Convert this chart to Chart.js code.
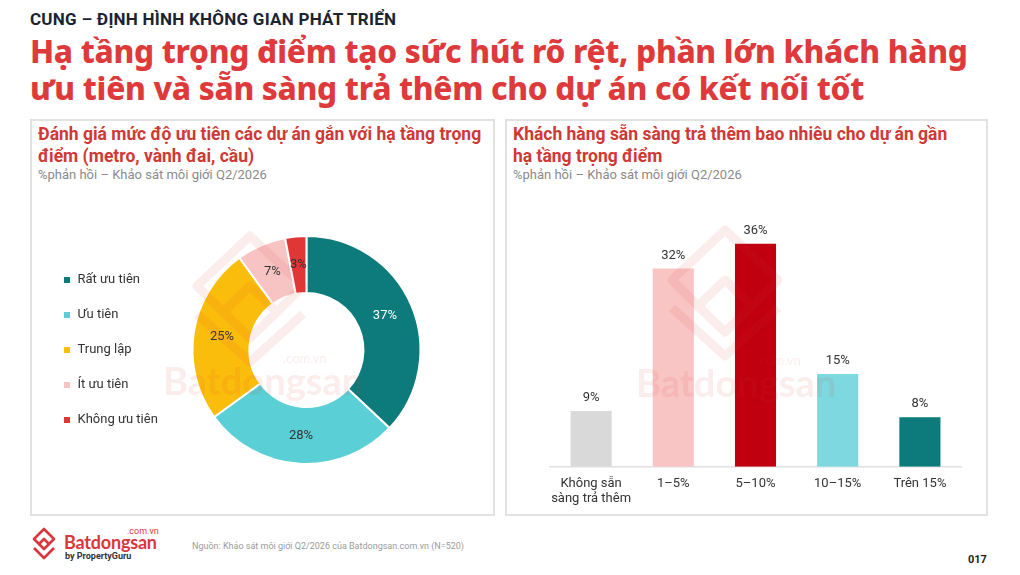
<!DOCTYPE html>
<html>
<head>
<meta charset="utf-8">
<script src="https://cdn.jsdelivr.net/npm/chart.js@4.4.1/dist/chart.umd.min.js"></script>
<style>
  body { margin: 0; width: 1020px; height: 575px; background: #fff; font-family: Roboto, "Noto Sans", sans-serif; position: relative; overflow: hidden; }
  .abs { position: absolute; }
  .kicker { left: 30px; top: 9px; font-size: 17px; font-weight: 700; color: #1c2333; letter-spacing: 0.25px; }
  .headline { left: 30px; top: 32px; font-family: "Noto Sans", sans-serif; font-size: 31.6px; font-weight: 800; color: #de3a3c; line-height: 37px; letter-spacing: -0.3px; white-space: nowrap; }
  .panel { border: 2px solid #e2e2e2; box-sizing: border-box; }
  .ptitle { font-size: 17.5px; font-weight: 700; color: #cf3935; line-height: 22px; }
  .psub { font-size: 13px; color: #8a8a8a; margin-top: 0px; }
  .wm { pointer-events: none; opacity: 0.09; color: #d9363e; font-family: Lato, "Noto Sans", sans-serif; font-weight: 700; }
  .src { left: 192px; top: 541px; font-size: 9px; color: #9a9a9a; }
  .page { left: 968px; top: 553px; font-size: 11px; font-weight: 700; color: #222; }
</style>
</head>
<body>
<div class="abs kicker">CUNG – ĐỊNH HÌNH KHÔNG GIAN PHÁT TRIỂN</div>
<div class="abs headline">Hạ tầng trọng điểm tạo sức hút rõ rệt, phần lớn khách hàng<br>ưu tiên và sẵn sàng trả thêm cho dự án có kết nối tốt</div>

<div class="abs panel" style="left:30px; top:119px; width:465px; height:397px;"></div>
<div class="abs panel" style="left:505px; top:119px; width:483px; height:397px;"></div>

<div class="abs" style="left:38px; top:123px; width:450px;">
  <div class="ptitle">Đánh giá mức độ ưu tiên các dự án gắn với hạ tầng trọng điểm (metro, vành đai, cầu)</div>
  <div class="psub">%phản hồi – Khảo sát môi giới Q2/2026</div>
</div>
<div class="abs" style="left:513px; top:123px; width:450px;">
  <div class="ptitle">Khách hàng sẵn sàng trả thêm bao nhiêu cho dự án gần hạ tầng trọng điểm</div>
  <div class="psub">%phản hồi – Khảo sát môi giới Q2/2026</div>
</div>

<div class="abs" style="left:40px; top:200px; width:440px; height:305px;"><canvas id="donut"></canvas></div>
<div class="abs" style="left:540px; top:200px; width:440px; height:316px;"><canvas id="bars"></canvas></div>

<!-- faint watermarks -->
<svg class="abs wm" style="left:185px; top:228px;" width="130" height="140" viewBox="0 0 130 140">
  <g fill="none" stroke="#d9363e" stroke-width="9" stroke-linejoin="round">
    <path d="M65 8 L118 58 L92 84 L65 58 L38 84 L12 58 Z"/>
    <path d="M38 84 L65 110 L92 84 M12 86 L65 134 L118 86"/>
  </g>
</svg>
<div class="abs wm" style="left:163px; top:360px; font-size:38px; line-height:40px;">Batdongsan</div>
<div class="abs wm" style="left:283px; top:350px; font-size:13px; font-weight:400;">.com.vn</div>
<svg class="abs wm" style="left:660px; top:222px;" width="130" height="140" viewBox="0 0 130 140">
  <g fill="none" stroke="#d9363e" stroke-width="9" stroke-linejoin="round">
    <path d="M65 8 L118 58 L92 84 L65 58 L38 84 L12 58 Z"/>
    <path d="M38 84 L65 110 L92 84 M12 86 L65 134 L118 86"/>
  </g>
</svg>
<div class="abs wm" style="left:636px; top:362px; font-size:38px; line-height:40px;">Batdongsan</div>
<div class="abs wm" style="left:757px; top:352px; font-size:13px; font-weight:400;">.com.vn</div>

<!-- footer -->
<svg class="abs" style="left:32px; top:527px;" width="24" height="36" viewBox="0 0 24 36">
  <g fill="none" stroke="#d9363e" stroke-width="2.6" stroke-linejoin="round">
    <path d="M12 2 L22 12 L17 17 L12 12 L7 17 L2 12 Z"/>
    <path d="M7 17 L12 22 L17 17 M2 21 L12 31 L22 21"/>
  </g>
</svg>
<div class="abs" style="left:64px; top:531px; font-family:Lato, sans-serif; font-size:18px; font-weight:700; color:#d9363e; letter-spacing:-0.2px;">Batdongsan</div>
<div class="abs" style="left:127px; top:526px; font-size:9px; color:#d9363e;">.com.vn</div>
<div class="abs" style="left:65px; top:551px; font-size:9px; font-weight:700; color:#333;">by PropertyGuru</div>
<div class="abs src">Nguồn: Khảo sát môi giới Q2/2026 của Batdongsan.com.vn (N=520)</div>
<div class="abs page">017</div>

<script>
// left: priority split
const priorityLabels = ['Rất ưu tiên', 'Ưu tiên', 'Trung lập', 'Ít ưu tiên', 'Không ưu tiên'];
const priorityValues = [37, 28, 25, 7, 3];
const priorityColors = ['#0d7b7b', '#5bcfd6', '#fbbd0b', '#f8c3c3', '#e03636'];

// right: willingness to pay more
const payLabels = [['Không sẵn', 'sàng trả thêm'], '1–5%', '5–10%', '10–15%', 'Trên 15%'];
const payValues = [9, 32, 36, 15, 8];
const payColors = ['#d9d9d9', '#f9c4c4', '#c0000f', '#7dd9df', '#0d7b7b'];

const labelFont = { family: 'Roboto', size: 13 };

const valueLabels = {
  id: 'valueLabels',
  afterDatasetsDraw(chart) {
    const ctx = chart.ctx;
    const meta = chart.getDatasetMeta(0);
    const vals = chart.data.datasets[0].data;
    ctx.save();
    ctx.font = '13px Roboto';
    ctx.textAlign = 'center';
    ctx.textBaseline = 'middle';
    meta.data.forEach((el, i) => {
      if (chart.config.type === 'doughnut') {
        const p = el.tooltipPosition();
        ctx.fillStyle = i === 0 ? '#ffffff' : '#333333';
        ctx.fillText(vals[i] + '%', p.x, p.y);
      } else {
        ctx.fillStyle = '#333333';
        ctx.fillText(vals[i] + '%', el.x, el.y - 13);
      }
    });
    ctx.restore();
  }
};

new Chart(document.getElementById('donut').getContext('2d'), {
  type: 'doughnut',
  data: {
    labels: priorityLabels,
    datasets: [{
      data: priorityValues,
      backgroundColor: priorityColors,
      borderColor: '#ffffff',
      borderWidth: 2
    }]
  },
  options: {
    responsive: true,
    maintainAspectRatio: false,
    animation: false,
    cutout: '50%',
    layout: { padding: { left: 1, right: 35, top: 35, bottom: 40 } },
    plugins: {
      legend: {
        position: 'left',
        labels: {
          boxWidth: 8,
          boxHeight: 8,
          padding: 22,
          color: '#333333',
          font: labelFont
        }
      },
      tooltip: { enabled: false }
    }
  },
  plugins: [valueLabels]
});

new Chart(document.getElementById('bars').getContext('2d'), {
  type: 'bar',
  data: {
    labels: payLabels,
    datasets: [{
      data: payValues,
      backgroundColor: payColors,
      categoryPercentage: 0.5,
      barPercentage: 1
    }]
  },
  options: {
    responsive: true,
    maintainAspectRatio: false,
    animation: false,
    layout: { padding: { left: 10, right: 19, top: 19, bottom: 0 } },
    scales: {
      x: {
        grid: { display: false, drawTicks: false },
        border: { display: true, color: '#e0e0e0', width: 1.5 },
        ticks: { color: '#333333', font: labelFont, padding: 9, maxRotation: 0, minRotation: 0, autoSkip: false }
      },
      y: { display: false, min: 0, max: 40 }
    },
    plugins: {
      legend: { display: false },
      tooltip: { enabled: false }
    }
  },
  plugins: [valueLabels]
});
</script>
</body>
</html>
